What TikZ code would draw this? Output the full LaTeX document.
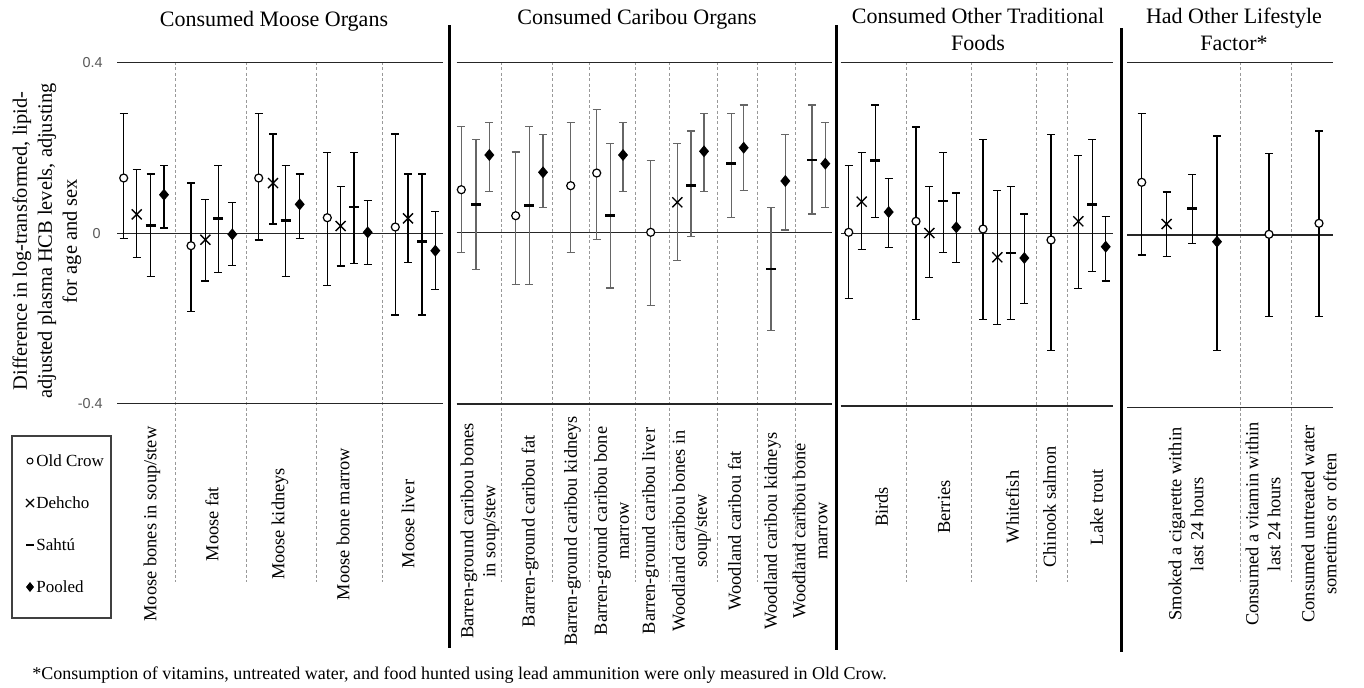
\documentclass[tikz,border=0pt]{standalone}
\usepackage{fontspec}
\setmainfont{Liberation Serif}
\newfontfamily\axfont{Liberation Sans}
\newcommand\EBar[4]{\draw[eb] (#1,#3) -- (#1,#4) (#1-4,#3) -- (#1+4,#3) (#1-4,#4) -- (#1+4,#4);}
\newcommand\ptOC[4]{\EBar{#1}{#2}{#3}{#4}\draw[line width=0.6pt,fill=white] (#1,#2) circle[radius=4];}
\newcommand\ptDH[4]{\EBar{#1}{#2}{#3}{#4}\draw[line width=0.7pt] (#1-5,#2-5) -- (#1+5,#2+5) (#1-5,#2+5) -- (#1+5,#2-5);}
\newcommand\ptSA[4]{\EBar{#1}{#2}{#3}{#4}\draw[line width=1.3pt] (#1-5,#2) -- (#1+5,#2);}
\newcommand\ptPO[4]{\EBar{#1}{#2}{#3}{#4}\fill (#1,#2-6) -- (#1+5,#2) -- (#1,#2+6) -- (#1-5,#2) -- cycle;}
\begin{document}
\begin{tikzpicture}[x=0.5pt,y=-0.5pt,
  eb/.style={line width=0.7pt},
  gridl/.style={line width=0.6pt,black!85},
  sep/.style={line width=0.4pt,black!40,dash pattern=on 1.5pt off 1.2pt},
  divider/.style={line width=1.5pt},
  ttl/.style={font=\fontsize{11}{13.5}\selectfont,align=center,inner sep=0pt},
  cat/.style={font=\fontsize{9.2}{11}\selectfont,rotate=90,align=center,inner sep=0pt},
  tickl/.style={font=\axfont\fontsize{7.2}{8}\selectfont,text=black!65,anchor=east,inner sep=0pt},
]
\useasboundingbox (0,0) rectangle (1364,687);
\fill[white] (0,0) rectangle (1364,687);

% ---------- titles ----------
\node[ttl] (t1) at (274,21) {Consumed Moose Organs};
\node[ttl] (t2) at (637,19) {Consumed Caribou Organs};
\node[ttl] (t3) at (978,29) {Consumed Other Traditional\\Foods};
\node[ttl] (t4) at (1234,29) {Had Other Lifestyle\\Factor*};

% ---------- y axis ----------
\node[font=\fontsize{10.2}{12.5}\selectfont,rotate=90,align=center,inner sep=0pt] (ylab) at (47,241)
  {Difference in log-transformed, lipid-\\adjusted plasma HCB levels, adjusting\\for age and sex};
\node[tickl] (tk1) at (103,62.3) {0.4};
\node[tickl] (tk2) at (101,233.7) {0};
\node[tickl] (tk3) at (103,403.3) {-0.4};

% ---------- dividers ----------
\draw[divider] (449,25) -- (449,648);
\draw[divider] (836,25) -- (836,650);
\draw[divider] (1121.7,28) -- (1121.7,652);

% ---------- separators ----------
\foreach \xx in {175,246,316,382,501.7,552.7,589,635,669.3,717.7,757.7,795,906,971.7,1036.7,1067.7,1240.7,1291.7}
  \draw[sep] (\xx,62) -- (\xx,582);

% ---------- grid lines ----------
\foreach \yy in {62.3,233.7,403.3} \draw[gridl] (117,\yy) -- (443,\yy);
\foreach \yy in {62.7,232.3,404} \draw[gridl] (456.7,\yy) -- (831.7,\yy);
\foreach \yy in {62.7,233.7,406} \draw[gridl] (840.7,\yy) -- (1113.3,\yy);
\foreach \yy in {62.7,235,407.3} \draw[gridl] (1127.3,\yy) -- (1332.7,\yy);

% ---------- panel 1: moose ----------
\begin{scope}[eb/.style={line width=0.75pt}]
\ptOC{123.7}{178}{113.7}{238.7}
\ptDH{136.7}{214.3}{169.3}{257.3}
\ptSA{150.7}{225.7}{174}{276.7}
\ptPO{164}{194.7}{165.3}{228}
\ptOC{191}{245.7}{183}{311.7}
\ptDH{205.3}{239.7}{199.3}{281}
\ptSA{218.3}{218.3}{165.3}{272.3}
\ptPO{232.3}{234.3}{202.7}{265.7}
\ptOC{258.7}{178}{113.7}{240}
\ptDH{273}{183}{134}{224}
\ptSA{285.7}{220.7}{165.3}{276.7}
\ptPO{299.7}{204.3}{174}{238.7}
\ptOC{327.3}{217.7}{152.3}{285.7}
\ptDH{340.7}{226}{186.7}{266}
\ptSA{354}{207}{152.3}{263.3}
\ptPO{367.7}{232.3}{200.3}{264.7}
\ptOC{395.3}{227}{134}{315}
\ptDH{408}{218.3}{174}{262.3}
\ptSA{422}{241.3}{174}{315}
\ptPO{435.3}{250.7}{211.3}{289.3}
\end{scope}

% ---------- panel 2: caribou ----------
\begin{scope}[eb/.style={line width=0.75pt,black!60}]
\ptOC{461.3}{189.7}{126.3}{252.3}
\ptSA{476}{204.3}{139.7}{269.3}
\ptPO{489.3}{155}{122.7}{191.7}
\ptOC{515.7}{215.7}{152}{284.3}
\ptSA{529.3}{205.7}{126.3}{284.3}
\ptPO{543}{172.3}{134.7}{207.7}
\ptOC{570.7}{185.7}{122.7}{252.3}
\ptOC{596.7}{173}{109.7}{239.7}
\ptSA{610.3}{215.7}{143.3}{288}
\ptPO{623}{155}{122.7}{191.7}
\ptOC{650.7}{232.3}{160.7}{305.3}
\ptDH{677.3}{202.3}{143.3}{260.7}
\ptSA{691}{185.7}{131}{236.3}
\ptPO{704}{151.3}{113.7}{191.7}
\ptSA{731.3}{163.7}{113.7}{217.7}
\ptPO{743.7}{147.7}{105}{190.7}
\ptSA{771}{269}{207.7}{330.7}
\ptPO{785.3}{181}{134.7}{230}
\ptSA{812}{160}{105}{214}
\ptPO{825.3}{163.7}{122.7}{207.7}
\end{scope}

% ---------- panel 3: other foods ----------
\begin{scope}[eb/.style={line width=0.55pt}]
\ptOC{848.7}{232.3}{165.7}{298.3}
\ptDH{861.7}{201.7}{152.3}{249.7}
\ptSA{875.3}{160.3}{105}{217.7}
\ptPO{888.7}{212}{178.3}{247.3}
\ptOC{916}{221.3}{127}{319.3}
\ptDH{929.3}{233}{186.7}{277.3}
\ptSA{943.3}{201}{152.3}{252.3}
\ptPO{956.3}{227.3}{193}{262.3}
\ptOC{983}{229}{139.7}{319.3}
\ptDH{997.3}{257.3}{190.7}{324.3}
\ptSA{1010.7}{253}{186.7}{319.3}
\ptPO{1024.3}{258}{214}{303.3}
\ptOC{1051}{240}{134.7}{350.3}
\ptDH{1078.3}{221.3}{155.7}{288.3}
\ptSA{1092.3}{204.3}{139.7}{271.3}
\ptPO{1105.7}{246.7}{216.7}{281}
\end{scope}

% ---------- panel 4: lifestyle ----------
\begin{scope}[eb/.style={line width=0.55pt}]
\ptOC{1141.7}{182.3}{113.7}{255}
\ptDH{1166.7}{224}{192}{256.3}
\ptSA{1192.3}{208.3}{174.3}{243.7}
\ptPO{1217}{241.7}{136}{350.3}
\ptOC{1269}{234.3}{153.3}{316.7}
\ptOC{1319}{223.3}{131}{316.7}
\end{scope}

% ---------- category labels ----------
\node[cat] (c1) at (152,524) {Moose bones in soup/stew};
\node[cat] (c2) at (212,524) {Moose fat};
\node[cat] (c3) at (280,524) {Moose kidneys};
\node[cat] (c4) at (343,524) {Moose bone marrow};
\node[cat] (c5) at (408,524) {Moose liver};

\node[cat] (d1) at (480,531) {Barren-ground caribou bones\\in soup/stew};
\node[cat] (d2) at (530,531) {Barren-ground caribou fat};
\node[cat] (d3) at (572.5,531) {Barren-ground caribou kidneys};
\node[cat] (d4) at (611.5,531) {Barren-ground caribou bone\\marrow};
\node[cat] (d5) at (650.5,531) {Barren-ground caribou liver};
\node[cat] (d6) at (691.5,531) {Woodland caribou bones in\\soup/stew};
\node[cat] (d7) at (734.5,531) {Woodland caribou fat};
\node[cat] (d8) at (772.5,531) {Woodland caribou kidneys};
\node[cat] (d9) at (810,531) {Woodland caribou bone\\marrow};

\node[cat] (e1) at (881.5,507) {Birds};
\node[cat] (e2) at (944,507) {Berries};
\node[cat] (e3) at (1012.5,507) {Whitefish};
\node[cat] (e4) at (1049.5,507) {Chinook salmon};
\node[cat] (e5) at (1096.5,507) {Lake trout};

\node[cat] (f1) at (1186,524) {Smoked a cigarette within\\last 24 hours};
\node[cat] (f2) at (1263,524) {Consumed a vitamin within\\last 24 hours};
\node[cat] (f3) at (1319,524) {Consumed untreated water\\sometimes or often};

% ---------- legend ----------
\node[draw=black!75,line width=0.7pt,minimum width=49.5pt,minimum height=91pt,inner sep=0pt] (leg) at (61.5,527) {};
\begin{scope}[font=\fontsize{8.5}{10}\selectfont]
\draw[line width=0.5pt] (30,461) circle[radius=3];
\node[anchor=west,inner sep=0pt] (l1) at (36,461) {Old Crow};
\draw[line width=0.6pt] (26,499) -- (34,507) (26,507) -- (34,499);
\node[anchor=west,inner sep=0pt] (l2) at (36,503) {Dehcho};
\draw[line width=1.2pt] (26,545) -- (34,545);
\node[anchor=west,inner sep=0pt] (l3) at (36,545) {Sahtú};
\fill (30,582) -- (34,587) -- (30,592) -- (26,587) -- cycle;
\node[anchor=west,inner sep=0pt] (l4) at (36,587) {Pooled};
\end{scope}

% ---------- footnote ----------
\node[anchor=west,inner sep=0pt,font=\fontsize{9}{11}\selectfont] (fn) at (32,675)
  {*Consumption of vitamins, untreated water, and food hunted using lead ammunition were only measured in Old Crow.};
\end{tikzpicture}
\end{document}
